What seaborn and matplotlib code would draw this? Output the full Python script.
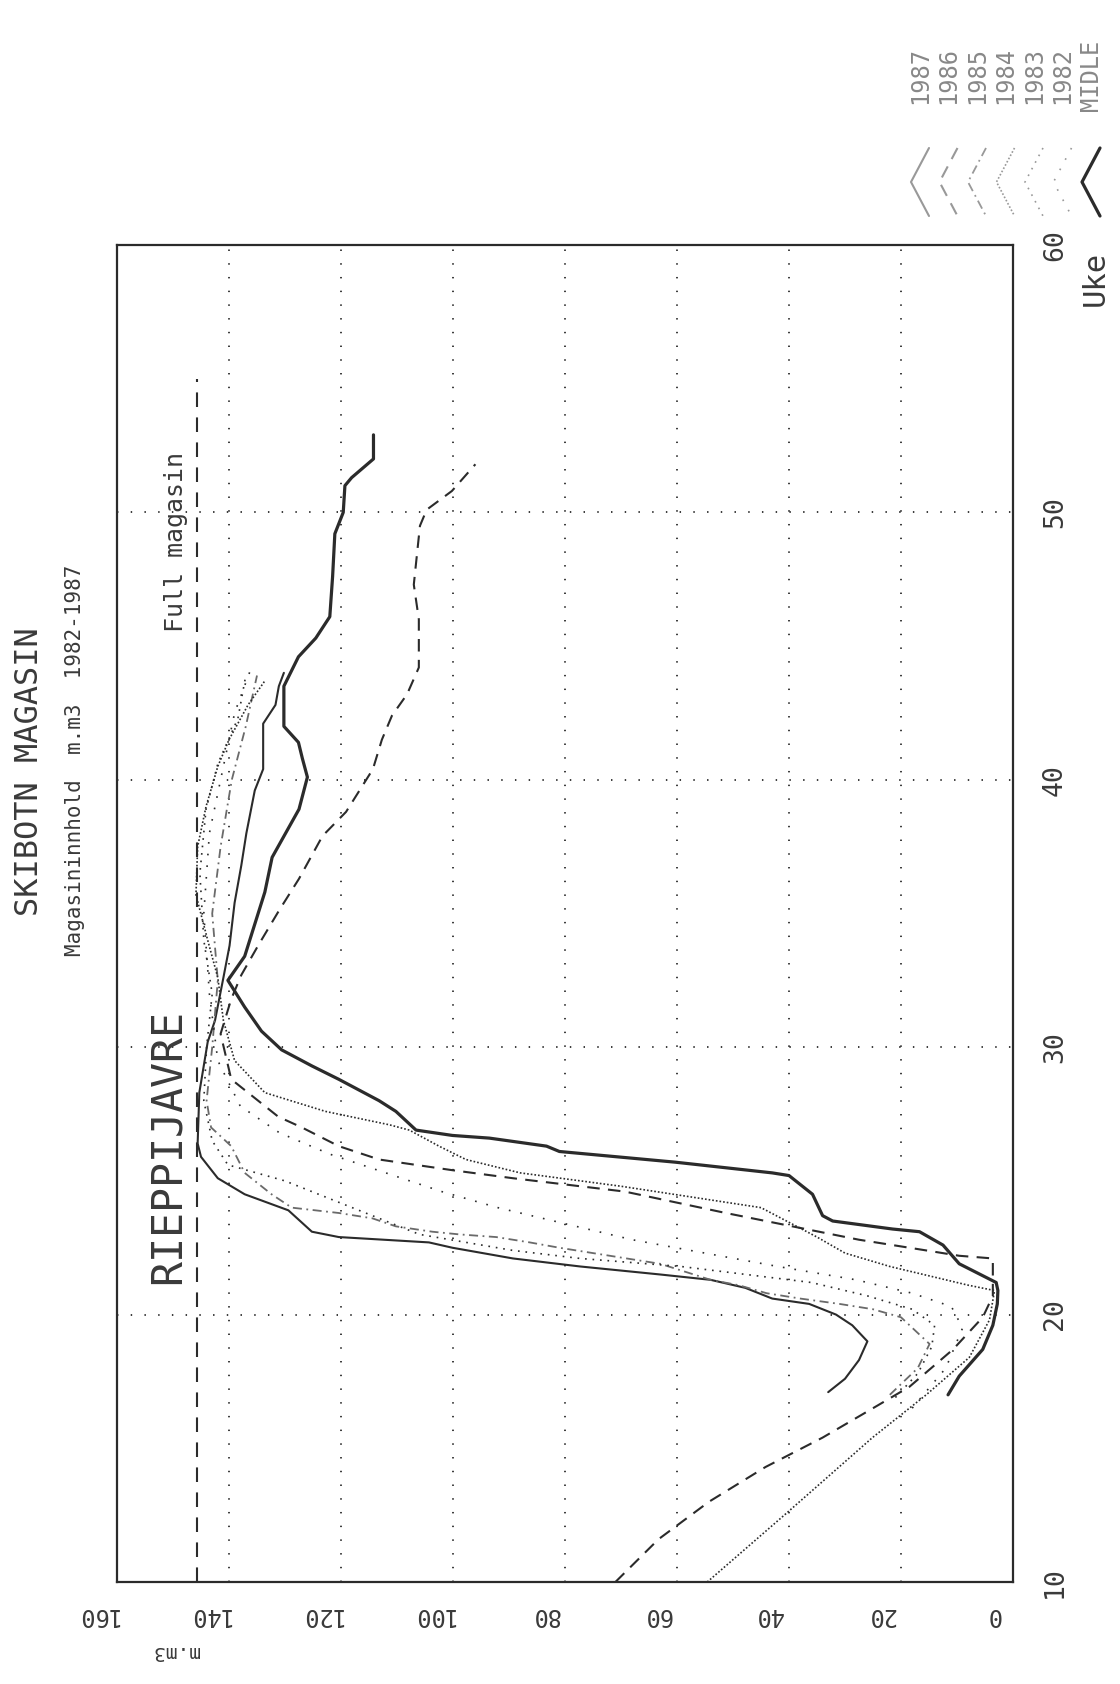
import matplotlib
matplotlib.use("Agg")
import matplotlib.pyplot as plt
from matplotlib.transforms import offset_copy
from matplotlib.lines import Line2D
import seaborn as sns
import pandas as pd

# ---- data (week, storage in mill. m3) ----
w87 = [17.1, 17.6, 18.3, 19.0, 19.6, 20.0, 20.4, 20.6, 21.0, 21.3, 21.5, 21.8, 22.1, 22.5, 22.7,
       22.9, 23.1, 23.9, 24.5, 25.1, 25.9, 26.4, 28.3, 30.2, 31.0, 32.6, 33.8, 35.4, 36.8, 38.0,
       39.6, 40.4, 42.1, 42.8, 43.5, 44.0]
v87 = [33.0, 30.0, 27.5, 26.0, 28.7, 31.6, 36.4, 43.0, 47.8, 54.0, 63.0, 77.3, 89.3, 100.1, 104.3,
       120.4, 125.2, 129.4, 137.2, 142.0, 145.0, 145.6, 145.3, 143.8, 142.5, 141.0, 139.9, 139.0, 137.8, 136.9,
       135.4, 133.9, 133.9, 131.7, 131.1, 130.2]

w86 = [10.0, 11.6, 13.0, 14.3, 15.4, 16.5, 17.3, 18.7, 19.9, 20.7, 22.1, 22.2, 22.4, 22.8, 23.3,
       23.8, 24.2, 24.6, 24.8, 25.1, 25.4, 25.8, 26.3, 27.0, 27.4, 28.8, 30.5, 31.8, 32.7, 33.8,
       35.1, 36.3, 37.9, 38.8, 40.4, 41.5, 42.4, 43.2, 44.2, 46.0, 47.3, 49.5, 50.1, 50.8, 51.8]
v86 = [71.0, 63.3, 54.3, 44.2, 34.0, 25.0, 18.5, 10.7, 5.4, 3.6, 3.6, 9.6, 15.5, 27.5, 39.4,
       51.3, 60.3, 69.3, 77.3, 89.3, 100.1, 113.2, 120.4, 127.0, 131.2, 139.6, 141.5, 139.6, 137.8, 134.8,
       131.1, 127.5, 123.3, 119.1, 114.3, 112.7, 110.9, 108.2, 106.1, 106.1, 107.0, 105.9, 104.7, 100.2, 96.0]

w85 = [17.0, 18.0, 18.9, 19.9, 20.2, 20.4, 20.6, 20.8, 21.1, 21.3, 21.7, 21.9, 22.2, 22.5, 22.7,
       22.9, 23.0, 23.1, 23.3, 23.6, 23.8, 24.0, 24.5, 25.3, 26.3, 27.0, 28.0, 30.0, 32.5, 35.0,
       37.5, 40.0, 42.0, 43.9]
v85 = [22.0, 17.0, 14.9, 20.0, 25.0, 31.0, 38.0, 44.0, 49.0, 54.0, 60.0, 63.0, 72.0, 81.0, 86.3,
       92.3, 98.9, 103.7, 110.2, 114.4, 120.4, 128.8, 132.4, 137.2, 139.6, 143.2, 144.0, 143.0, 142.0, 143.0,
       141.5, 139.5, 137.0, 135.0]

w84 = [10.0, 12.6, 15.4, 17.0, 18.4, 19.8, 20.9, 21.1, 21.5, 21.8, 22.3, 22.9, 24.0, 24.8, 25.3,
       25.8, 26.3, 26.9, 27.1, 27.6, 28.3, 29.5, 31.0, 32.6, 34.0, 35.7, 37.5, 39.0, 40.5, 41.5,
       42.8, 43.7]
v84 = [54.6, 40.3, 25.1, 15.5, 7.8, 4.2, 3.3, 8.0, 16.0, 22.0, 30.0, 35.0, 45.0, 70.0, 88.0,
       97.7, 102.5, 107.8, 111.4, 122.8, 133.6, 139.0, 141.0, 142.0, 143.8, 145.9, 145.6, 144.1, 142.0, 140.0,
       136.6, 133.6]

w83 = [16.9, 17.8, 18.8, 19.6, 20.2, 20.7, 21.2, 21.8, 22.1, 22.4, 23.0, 23.3, 24.1, 25.0, 25.6,
       26.5, 28.0, 30.0, 32.0, 34.0, 36.5, 38.9, 40.6, 42.3, 43.9]
v83 = [21.0, 17.0, 14.5, 14.0, 18.0, 26.0, 36.0, 59.3, 77.3, 89.3, 106.0, 109.6, 119.2, 130.0, 140.2,
       143.0, 144.5, 144.0, 143.0, 144.5, 145.2, 144.1, 142.0, 138.4, 137.0]

w82 = [16.5, 18.0, 19.5, 20.3, 20.8, 21.3, 21.8, 22.3, 22.8, 23.4, 24.0, 24.6, 25.3, 26.0, 26.8,
       27.8, 29.5, 32.0, 35.0, 38.0, 40.5, 42.5, 44.2]
v82 = [18.0, 12.0, 9.0, 11.0, 18.0, 28.0, 42.0, 55.0, 68.0, 80.0, 92.0, 102.0, 112.0, 122.0, 131.0,
       138.0, 142.0, 143.5, 144.5, 143.5, 141.0, 139.0, 136.0]

w_mid = [17.0, 17.7, 18.7, 19.6, 20.4, 20.9, 21.2, 21.9, 22.6, 23.1, 23.2, 23.5, 23.7, 24.5, 25.2,
         25.3, 25.7, 26.1, 26.3, 26.6, 26.7, 26.9, 27.6, 28.0, 28.8, 29.3, 29.9, 30.6, 31.5, 32.5,
         33.4, 34.6, 35.8, 37.1, 38.0, 38.9, 40.1, 40.8, 41.4, 42.0, 43.5, 44.6, 45.3, 46.1, 47.6,
         49.2, 50.0, 51.0, 51.3, 52.0, 52.9]
v_mid = [11.6, 9.6, 5.4, 3.6, 2.8, 2.7, 3.0, 9.6, 12.5, 16.7, 21.5, 32.2, 34.0, 35.8, 40.0,
         43.0, 60.3, 81.0, 83.3, 93.5, 100.1, 106.6, 110.2, 113.2, 120.4, 125.2, 130.6, 134.2, 137.2, 140.2,
         137.2, 135.4, 133.6, 132.3, 129.9, 127.5, 126.0, 126.9, 127.6, 130.2, 130.2, 127.6, 124.5, 122.0, 121.5,
         121.1, 119.6, 119.3, 118.1, 114.2, 114.2]

full_weeks = [10, 55]
full_level = [145.8, 145.8]

labels = ["1987", "1986", "1985", "1984", "1983", "1982", "MIDLE"]
value_ticks = [0, 20, 40, 60, 80, 100, 120, 140, 160]
week_ticks = [10, 20, 30, 40, 50, 60]

ink = "#2b2b2b"
txt = "#3a3a3a"
styles = {
    "1987": dict(color=ink, lw=1.5, ls="-"),
    "1986": dict(color=ink, lw=1.5, ls=(0, (6, 4))),
    "1985": dict(color="#6a6a6a", lw=1.3, ls=(0, (5, 2.5, 1, 2.5))),
    "1984": dict(color=ink, lw=1.2, ls=(0, (1, 1.2))),
    "1983": dict(color=ink, lw=1.2, ls=(0, (1, 3.5))),
    "1982": dict(color=ink, lw=1.2, ls=(0, (1, 6))),
    "MIDLE": dict(color=ink, lw=2.3, ls="-"),
}

series = {"1987": (w87, v87), "1986": (w86, v86), "1985": (w85, v85), "1984": (w84, v84),
          "1983": (w83, v83), "1982": (w82, v82), "MIDLE": (w_mid, v_mid)}
frames = [pd.DataFrame({"uke": w, "mengde": v, "aar": k}) for k, (w, v) in series.items()]
df = pd.concat(frames, ignore_index=True)

sns.set_style("white")
plt.rcParams["font.family"] = ["DejaVu Sans Mono", "DejaVu Sans"]

W, H = 1120, 1684
fig = plt.figure(figsize=(W / 100, H / 100), dpi=100)
ax = fig.add_axes([117 / W, 1 - 1582 / H, 896 / W, 1337 / H])

for name in labels:
    sub = df[df["aar"] == name]
    st = styles[name]
    sns.lineplot(data=sub, x="mengde", y="uke", orient="y", estimator=None, ax=ax,
                 color=st["color"], linewidth=st["lw"], linestyle=st["ls"], legend=False)

# full reservoir level
sns.lineplot(x=full_level, y=full_weeks, orient="y", estimator=None, ax=ax,
             color=ink, linewidth=1.5, linestyle=(0, (7, 5)), legend=False)

ax.set_xlim(160, 0)
ax.set_ylim(10, 60)
ax.set_xticks(value_ticks)
ax.set_yticks(week_ticks)
ax.grid(True, color=ink, linestyle=(0, (0.8, 6.8)), linewidth=1.3)
ax.tick_params(length=0, labelbottom=False, labelleft=False)
ax.set_xlabel("")
ax.set_ylabel("")
for s in ax.spines.values():
    s.set_visible(True)
    s.set_color(ink)
    s.set_linewidth(1.6)

# value labels (upside-down, as in the scanned plot)
xt = offset_copy(ax.get_xaxis_transform(), fig=fig, x=-20, y=0, units="dots")
for v in value_ticks:
    ax.text(v, -33 / 1337, str(v), transform=xt, rotation=180, ha="center", va="center",
            fontsize=17, color=txt)
fig.text(175 / W, 1 - 1652 / H, "m.m3", rotation=180, ha="center", va="center",
         fontsize=14, color=txt)

# week labels on the right
for w in week_ticks:
    ax.text(1 + 42 / 896, w, str(w), transform=ax.get_yaxis_transform(), rotation=90,
            ha="center", va="center", fontsize=19, color=txt)
fig.text(1095 / W, 1 - 278 / H, "Uke", rotation=90, ha="center", va="center",
         fontsize=22, color=txt)

# titles
fig.text(30 / W, 1 - 772 / H, "SKIBOTN MAGASIN", rotation=90, ha="center", va="center",
         fontsize=23, color=txt)
fig.text(75 / W, 1 - 760 / H, "Magasininnhold  m.m3  1982-1987", rotation=90, ha="center",
         va="center", fontsize=15, color=txt)
fig.text(168 / W, 1 - 1146 / H, "RIEPPIJAVRE", rotation=90, ha="center", va="center",
         fontsize=30, color=txt)
fig.text(176 / W, 1 - 542 / H, "Full magasin", rotation=90, ha="center", va="center",
         fontsize=18, color=txt)

# legend block, top right
for i, name in enumerate(labels):
    x = (920 + 28.5 * i) / W
    fig.text(x, 1 - 75 / H, name, rotation=90, ha="center", va="center",
             fontsize=17, color="#888888")
    st = styles[name]
    xs = [x + 9 / W, x - 9 / W, x + 9 / W]
    ys = [1 - 148 / H, 1 - 182 / H, 1 - 216 / H]
    col = "#999999" if name != "MIDLE" else ink
    fig.add_artist(Line2D(xs, ys, color=col, linewidth=st["lw"], linestyle=st["ls"]))

fig.savefig("out.png", dpi=100, facecolor="white")
